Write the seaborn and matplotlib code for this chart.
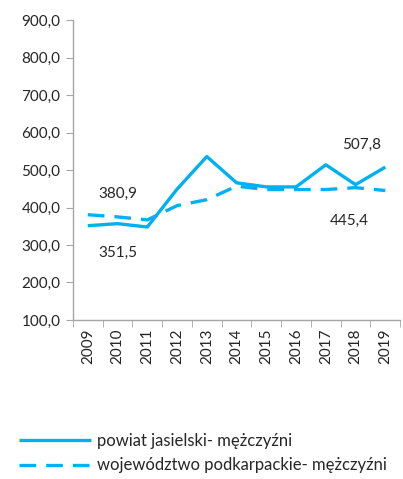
import pandas as pd
import matplotlib.pyplot as plt
import seaborn as sns
import numpy as np

# data
years = ["2009", "2010", "2011", "2012", "2013", "2014", "2015", "2016", "2017", "2018", "2019"]
powiat = [351.5, 357, 348, 449, 536, 466, 455, 455, 514, 461, 507.8]
wojewodztwo = [380.9, 375, 367, 405, 421, 457, 448, 448, 448, 453, 445.4]
series_names = ["powiat jasielski- mężczyźni", "województwo podkarpackie- mężczyźni"]

df = pd.DataFrame({
    "rok": years * 2,
    "wartosc": powiat + wojewodztwo,
    "seria": [series_names[0]] * len(years) + [series_names[1]] * len(years),
})

sns.set_style("white")
plt.rcParams["font.family"] = ["Lato", "DejaVu Sans"]

blue = "#00B0F0"
fig = plt.figure(figsize=(4.03, 4.79), dpi=100)
ax = fig.add_axes([0.181, 0.332, 0.812, 0.626])

sns.lineplot(data=df, x="rok", y="wartosc", hue="seria", style="seria",
             palette=[blue, blue], dashes=[(1, 0), (5, 3)],
             linewidth=2.4, ax=ax, legend=True, sort=False)

ax.set_ylim(100, 900)
ax.set_yticks(np.arange(100, 901, 100))
ax.set_yticklabels([f"{v:.1f}".replace(".", ",") for v in np.arange(100, 901, 100)], fontsize=11)
ax.set_xlim(-0.5, len(years) - 0.5)
ax.set_xticks(range(len(years)))
ax.set_xticklabels(years, rotation=90, fontsize=11)
ax.set_xticks(np.arange(-0.5, len(years), 1), minor=True)
ax.tick_params(axis="x", which="major", length=0, pad=6)
ax.tick_params(axis="x", which="minor", length=5, color="#a6a6a6", direction="out", bottom=True)
ax.tick_params(axis="y", length=5, color="#a6a6a6", direction="out", left=True, pad=4)
ax.set_xlabel("")
ax.set_ylabel("")

for side in ["top", "right"]:
    ax.spines[side].set_visible(False)
for side in ["left", "bottom"]:
    ax.spines[side].set_color("#a6a6a6")
    ax.spines[side].set_linewidth(1)

# value labels
ax.text(1, 380.9 + 56, "380,9", ha="center", va="center", fontsize=11)
ax.text(1, 351.5 - 73, "351,5", ha="center", va="center", fontsize=11)
ax.text(9.2, 507.8 + 60, "507,8", ha="center", va="center", fontsize=11)
ax.text(8.8, 445.4 - 80, "445,4", ha="center", va="center", fontsize=11)

handles, labels = ax.get_legend_handles_labels()
ax.legend(handles, labels, loc="upper left", bbox_to_anchor=(-0.185, -0.355),
          frameon=False, fontsize=12, handlelength=4.3, handletextpad=0.4,
          labelspacing=0.5, borderaxespad=0)

fig.savefig("out.png", dpi=100)
